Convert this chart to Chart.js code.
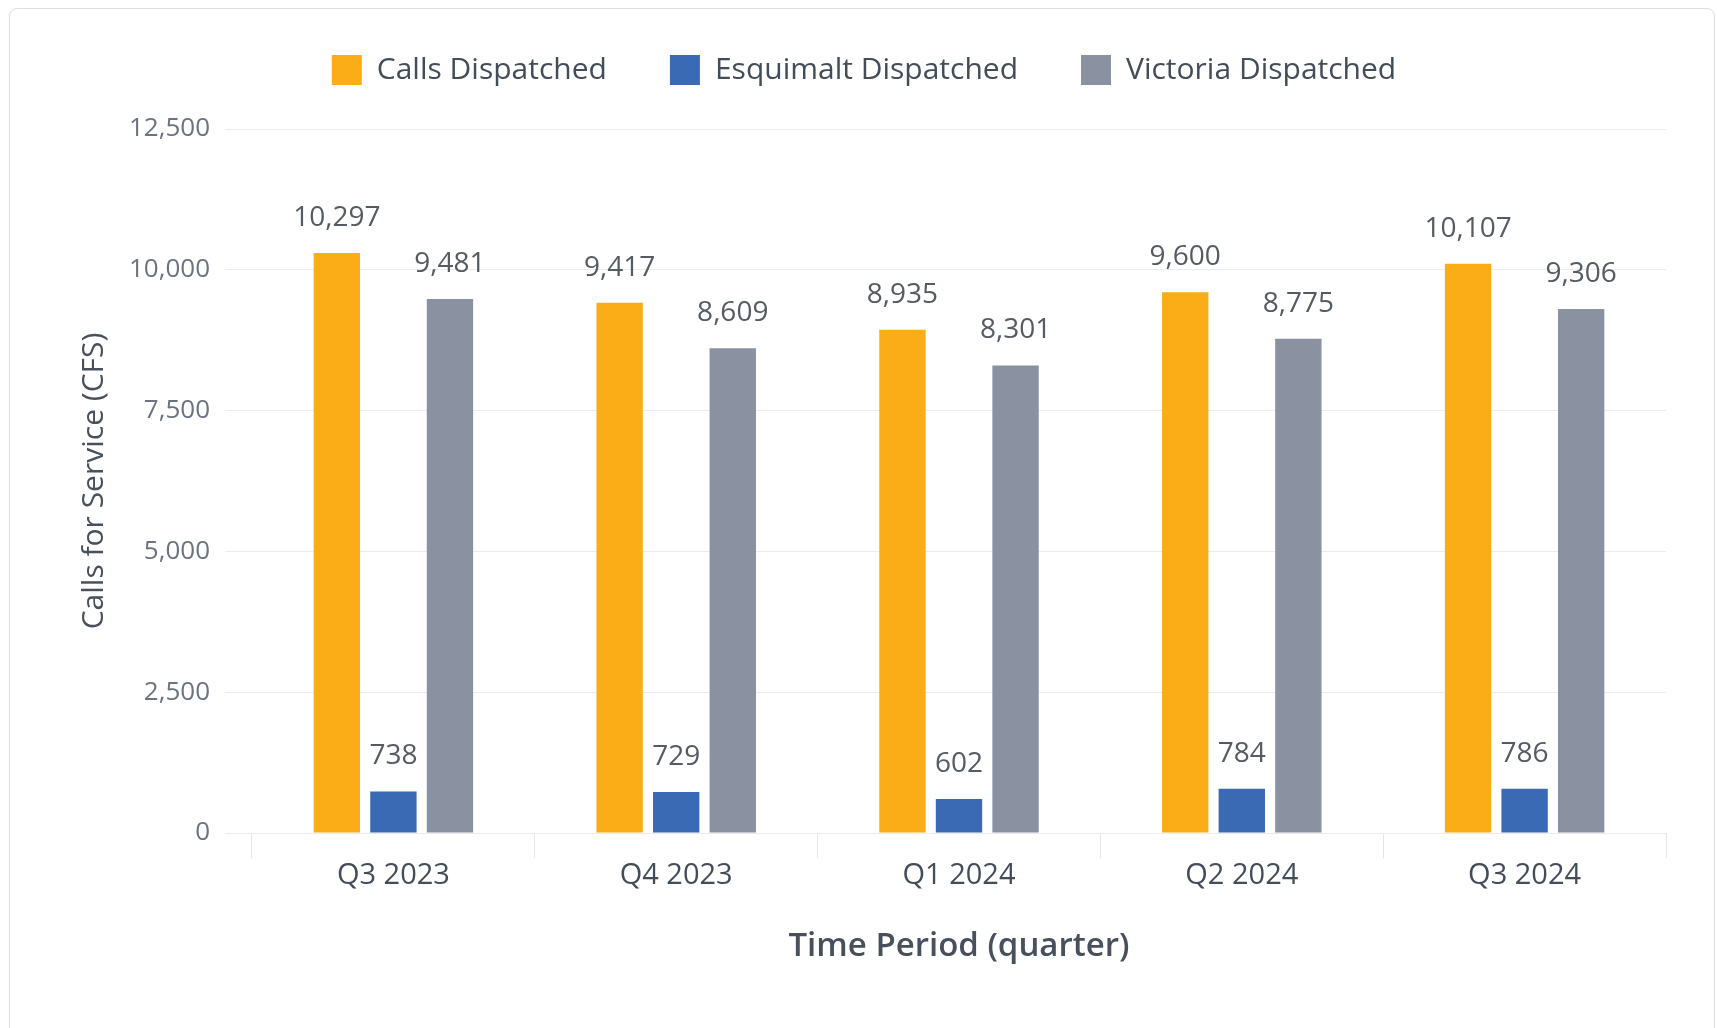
<!DOCTYPE html>
<html>
<head>
<meta charset="utf-8">
<title>Calls for Service</title>
<script src="https://cdn.jsdelivr.net/npm/chart.js@4.4.0/dist/chart.umd.min.js"></script>
<style>
  html, body { margin: 0; padding: 0; background: #fff; overflow: hidden; }
  .card {
    position: absolute; left: 9px; top: 8px; width: 1706px; height: 1060px;
    border: 1px solid #dedede; border-radius: 8px; box-sizing: border-box;
  }
  .chart-wrap { position: absolute; left: 0; top: 0; width: 1704px; height: 1000px; }
</style>
</head>
<body>
<div class="card">
  <div class="chart-wrap"><canvas id="cfsChart"></canvas></div>
</div>
<script>
const quarters = ["Q3 2023", "Q4 2023", "Q1 2024", "Q2 2024", "Q3 2024"];
const callsDispatched = [10297, 9417, 8935, 9600, 10107];
const esquimaltDispatched = [738, 729, 602, 784, 786];
const victoriaDispatched = [9481, 8609, 8301, 8775, 9306];
const yTicks = [0, 2500, 5000, 7500, 10000, 12500];

const FONT = '"Open Sans", "Noto Sans", sans-serif';

// draws the value above each bar
const valueLabels = {
  id: "valueLabels",
  afterDatasetsDraw(chart) {
    const ctx = chart.ctx;
    ctx.save();
    ctx.font = "28px " + FONT;
    ctx.fillStyle = "#555b63";
    ctx.textAlign = "center";
    ctx.textBaseline = "middle";
    chart.data.datasets.forEach((ds, i) => {
      chart.getDatasetMeta(i).data.forEach((bar, j) => {
        ctx.fillText(ds.data[j].toLocaleString("en-US"), bar.x, bar.y - 35);
      });
    });
    ctx.restore();
  },
};

function renderChart() {
  const ctx = document.getElementById("cfsChart").getContext("2d");
  new Chart(ctx, {
    type: "bar",
    data: {
      labels: quarters,
      datasets: [
        { label: "Calls Dispatched", data: callsDispatched, backgroundColor: "#fbad18" },
        { label: "Esquimalt Dispatched", data: esquimaltDispatched, backgroundColor: "#3a6ab4" },
        { label: "Victoria Dispatched", data: victoriaDispatched, backgroundColor: "#8a92a2" },
      ],
    },
    options: {
      responsive: true,
      maintainAspectRatio: false,
      animation: false,
      categoryPercentage: 0.6,
      barPercentage: 0.82,
      layout: { padding: { top: -17, left: 52, right: 48, bottom: 43 } },
      plugins: {
        legend: {
          labels: {
            boxWidth: 30,
            boxHeight: 30,
            padding: 63,
            color: "#434c59",
            font: { family: FONT, size: 30 },
          },
        },
        // empty spacer between legend and plot
        subtitle: {
          display: true,
          text: "",
          weight: 500,
          padding: 0,
          font: { size: 34, lineHeight: 1 },
        },
        tooltip: { enabled: false },
      },
      scales: {
        x: {
          afterFit: (scale) => { scale.height = 133; },
          grid: { drawOnChartArea: false, tickLength: 25, color: "#e6e6e6" },
          border: { display: false },
          ticks: { padding: 0, color: "#434c59", font: { family: FONT, size: 29 } },
          title: {
            display: true,
            text: "Time Period (quarter)",
            color: "#48505c",
            padding: 0,
            font: { family: FONT, size: 33, weight: "600" },
          },
        },
        y: {
          min: 0,
          max: 12500,
          afterFit: (scale) => { scale.width = 190; },
          afterBuildTicks: (scale) => { scale.ticks = yTicks.map((v) => ({ value: v })); },
          grid: { tickLength: 27, color: "#ebebeb" },
          border: { display: false },
          ticks: { padding: 15, color: "#6b7280", font: { family: FONT, size: 26 } },
          title: {
            display: true,
            text: "Calls for Service (CFS)",
            color: "#48505c",
            padding: { top: 14, bottom: 0 },
            font: { family: FONT, size: 30 },
          },
        },
      },
    },
    plugins: [valueLabels],
  });
}

document.addEventListener("DOMContentLoaded", () => {
  renderChart();
});
</script>
</body>
</html>
